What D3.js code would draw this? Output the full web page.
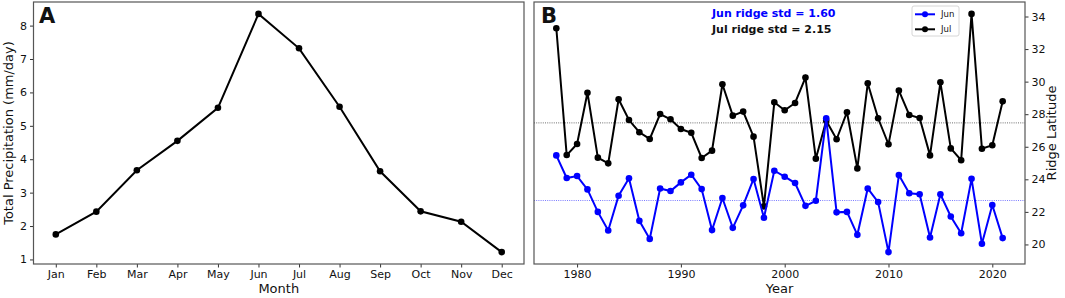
<!DOCTYPE html>
<html>
<head>
<meta charset="utf-8">
<script src="https://cdn.jsdelivr.net/npm/d3@7"></script>
<style>
  body { margin: 0; background: #fff; }
  svg text { font-family: "DejaVu Sans", sans-serif; fill: #111; }
</style>
</head>
<body>
<svg id="chart" width="1065" height="298"></svg>
<script>
// Panel A: monthly precipitation
const months = ["Jan","Feb","Mar","Apr","May","Jun","Jul","Aug","Sep","Oct","Nov","Dec"];
const precip = [1.75, 2.43, 3.67, 4.55, 5.54, 8.35, 7.32, 5.57, 3.64, 2.44, 2.13, 1.22];
const precipTicks = [1, 2, 3, 4, 5, 6, 7, 8];

// Panel B: ridge latitude by year
const years = d3.range(1978, 2022);
const junRidge = [25.47, 24.08, 24.20, 23.38, 22.00, 20.86, 22.99, 24.06, 21.45, 20.34,
                  23.44, 23.28, 23.81, 24.28, 23.40, 20.88, 22.85, 21.02, 22.40, 24.02,
                  21.64, 24.53, 24.16, 23.77, 22.37, 22.68, 27.75, 21.97, 22.00, 20.59,
                  23.44, 22.60, 19.53, 24.26, 23.14, 23.08, 20.43, 23.08, 21.72, 20.69,
                  24.03, 20.04, 22.42, 20.39];
const julRidge = [33.28, 25.49, 26.17, 29.32, 25.33, 24.98, 28.92, 27.64, 26.89, 26.48,
                  28.01, 27.69, 27.09, 26.86, 25.31, 25.76, 29.84, 27.91, 28.16, 26.62,
                  22.34, 28.73, 28.24, 28.69, 30.25, 25.27, 27.60, 26.46, 28.12, 24.67,
                  29.90, 27.75, 26.15, 29.45, 27.95, 27.77, 25.47, 29.96, 25.90, 25.17,
                  34.16, 25.88, 26.09, 28.79];
const yearTicks = [1980, 1990, 2000, 2010, 2020];
const latTicks = [20, 22, 24, 26, 28, 30, 32, 34];
const junStd = "1.60", julStd = "2.15";

const svg = d3.select("#chart");
const frameColor = "#555";
const dotR = 3.3;

// shared helper, pads domain 5% like matplotlib
function pad(ext) {
    let r = ext[1] - ext[0];
    return [ext[0] - 0.05 * r, ext[1] + 0.05 * r];
}

function styleAxis(g) {
    g.select(".domain").remove();
    g.selectAll(".tick line").attr("stroke", "#333");
    g.selectAll(".tick text").attr("font-size", 11).attr("fill", "#111");
}

// ---------- Panel A ----------
const A = {left: 33.5, right: 524, top: 2, bottom: 264};
const xA = d3.scaleLinear().domain(pad([0, 11])).range([A.left, A.right]);
const yA = d3.scaleLinear().domain(pad(d3.extent(precip))).range([A.bottom, A.top]);

const gA = svg.append("g");
gA.append("g")
    .attr("transform", `translate(0,${A.bottom})`)
    .call(d3.axisBottom(xA).tickValues(d3.range(12)).tickFormat(i => months[i]).tickSizeOuter(0).tickSize(3.5).tickPadding(3))
    .call(styleAxis);
gA.append("g")
    .attr("transform", `translate(${A.left},0)`)
    .call(d3.axisLeft(yA).tickValues(precipTicks).tickSizeOuter(0).tickSize(3.5).tickPadding(3))
    .call(styleAxis);

gA.append("path")
    .datum(precip)
    .attr("fill", "none").attr("stroke", "#000").attr("stroke-width", 2)
    .attr("d", d3.line().x((d, i) => xA(i)).y(d => yA(d)));
gA.selectAll("circle").data(precip).join("circle")
    .attr("cx", (d, i) => xA(i)).attr("cy", d => yA(d)).attr("r", dotR).attr("fill", "#000");

gA.append("rect")
    .attr("x", A.left).attr("y", A.top).attr("width", A.right - A.left).attr("height", A.bottom - A.top)
    .attr("fill", "none").attr("stroke", frameColor).attr("stroke-width", 1.2);

gA.append("text").attr("x", 39).attr("y", 23).attr("font-size", 21).attr("font-weight", "bold").text("A");
gA.append("text").attr("x", (A.left + A.right) / 2).attr("y", 293).attr("text-anchor", "middle")
    .attr("font-size", 13).text("Month");
gA.append("text").attr("transform", `translate(13,${(A.top + A.bottom) / 2}) rotate(-90)`)
    .attr("text-anchor", "middle").attr("font-size", 13).text("Total Precipitation (mm/day)");

// ---------- Panel B ----------
const B = {left: 534, right: 1025, top: 2, bottom: 264};
const xB = d3.scaleLinear().domain(pad(d3.extent(years))).range([B.left, B.right]);
const yB = d3.scaleLinear().domain(pad([d3.min(junRidge.concat(julRidge)), d3.max(junRidge.concat(julRidge))]))
    .range([B.bottom, B.top]);

const gB = svg.append("g");
gB.append("g")
    .attr("transform", `translate(0,${B.bottom})`)
    .call(d3.axisBottom(xB).tickValues(yearTicks).tickFormat(d3.format("d")).tickSizeOuter(0).tickSize(3.5).tickPadding(3))
    .call(styleAxis);
gB.append("g")
    .attr("transform", `translate(${B.right},0)`)
    .call(d3.axisRight(yB).tickValues(latTicks).tickSizeOuter(0).tickSize(3.5).tickPadding(3))
    .call(styleAxis);

const series = [
    {name: "Jun", values: junRidge, color: "#0000ff"},
    {name: "Jul", values: julRidge, color: "#000000"}
];

// mean lines (dotted)
series.forEach(s => {
    gB.append("line")
        .attr("x1", B.left).attr("x2", B.right)
        .attr("y1", yB(d3.mean(s.values))).attr("y2", yB(d3.mean(s.values)))
        .attr("stroke", s.color).attr("stroke-width", 0.8).attr("stroke-dasharray", "1,1.2").attr("opacity", 0.7);
});

series.slice().reverse().forEach(s => {
    gB.append("path")
        .datum(s.values)
        .attr("fill", "none").attr("stroke", s.color).attr("stroke-width", 2)
        .attr("d", d3.line().x((d, i) => xB(years[i])).y(d => yB(d)));
    gB.append("g").selectAll("circle").data(s.values).join("circle")
        .attr("cx", (d, i) => xB(years[i])).attr("cy", d => yB(d)).attr("r", dotR).attr("fill", s.color);
});

gB.append("rect")
    .attr("x", B.left).attr("y", B.top).attr("width", B.right - B.left).attr("height", B.bottom - B.top)
    .attr("fill", "none").attr("stroke", frameColor).attr("stroke-width", 1.2);

gB.append("text").attr("x", 541).attr("y", 23).attr("font-size", 21).attr("font-weight", "bold").text("B");
gB.append("text").attr("x", 712).attr("y", 17).attr("font-size", 11).attr("font-weight", "bold")
    .style("fill", "#0000ff").text(`Jun ridge std = ${junStd}`);
gB.append("text").attr("x", 712).attr("y", 33).attr("font-size", 11).attr("font-weight", "bold")
    .text(`Jul ridge std = ${julStd}`);

gB.append("text").attr("x", (B.left + B.right) / 2).attr("y", 293).attr("text-anchor", "middle")
    .attr("font-size", 13).text("Year");
gB.append("text").attr("transform", `translate(1056,${(B.top + B.bottom) / 2}) rotate(-90)`)
    .attr("text-anchor", "middle").attr("font-size", 13).text("Ridge Latitude");

// legend
const leg = gB.append("g").attr("transform", "translate(912,6)");
leg.append("rect").attr("width", 47).attr("height", 30).attr("rx", 2)
    .attr("fill", "#fff").attr("fill-opacity", 0.8).attr("stroke", "#ccc").attr("stroke-width", 0.8);
series.forEach((s, i) => {
    let y = 8.3 + i * 15;
    leg.append("line").attr("x1", 3).attr("x2", 23).attr("y1", y).attr("y2", y)
        .attr("stroke", s.color).attr("stroke-width", 2);
    leg.append("circle").attr("cx", 13).attr("cy", y).attr("r", 3).attr("fill", s.color);
    leg.append("text").attr("x", 29).attr("y", y + 3).attr("font-size", 8.5).text(s.name);
});
</script>
</body>
</html>
